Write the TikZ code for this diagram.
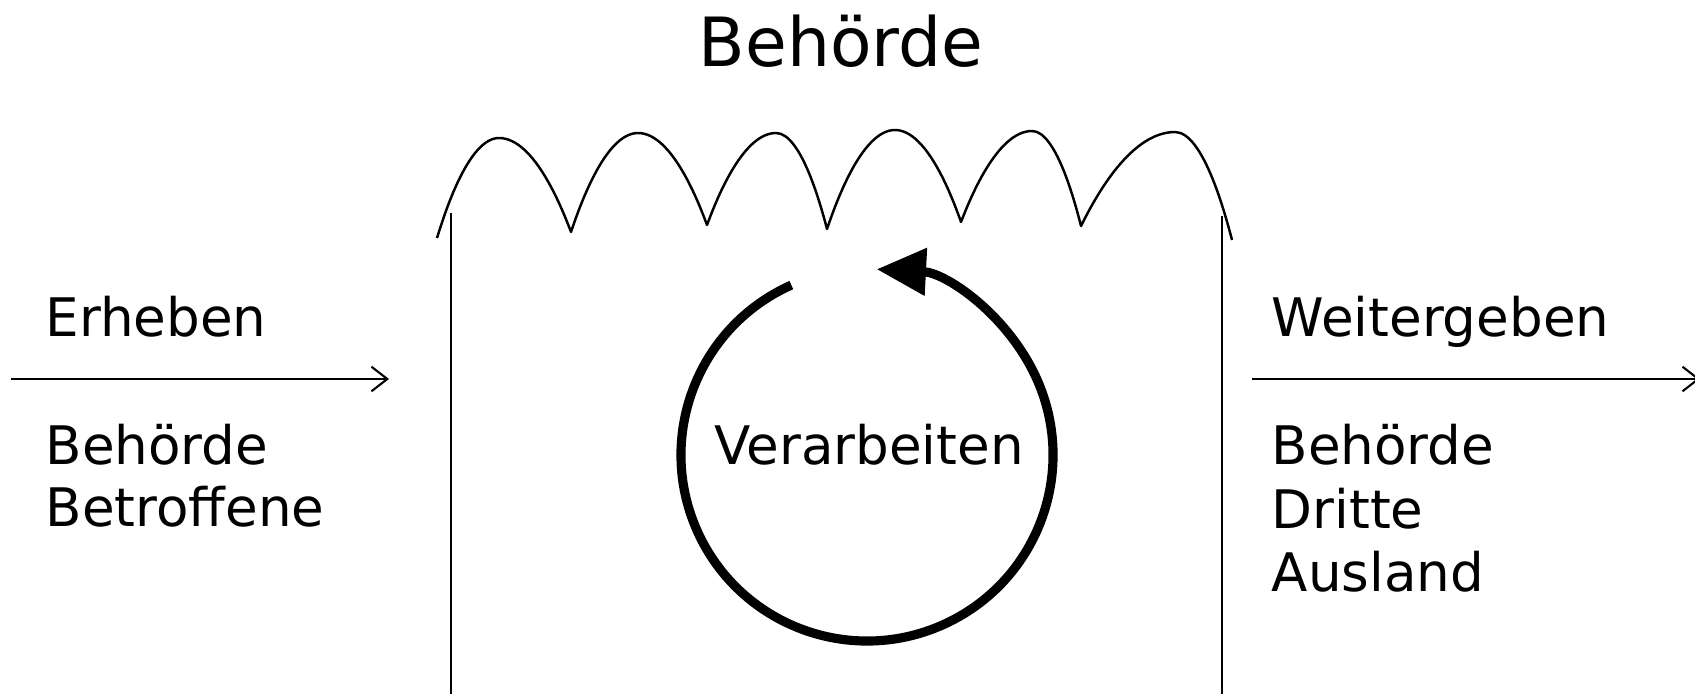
\documentclass[tikz,border=0pt]{standalone}
\usepackage{fontspec}
\setmainfont{DejaVu Sans}
\usetikzlibrary{arrows.meta}

\begin{document}
\begin{tikzpicture}[x=0.01cm, y=0.01cm,
  lab/.style={font=\fontsize{15.1}{18}\selectfont, inner sep=0pt, anchor=base west},
  wall/.style={line width=0.6pt},
  roof/.style={line width=0.7pt, line join=round},
  flow/.style={line width=0.6pt, -{Straight Barb[length=4.5pt, width=7pt]}},
  cycle/.style={line width=2.6pt, -{Triangle[length=14pt, width=13pt]}},
]
\useasboundingbox (0,0) rectangle (1695,694);
\node[font=\fontsize{19.3}{23}\selectfont, inner sep=0pt, anchor=base] (title) at (841,627) {Behörde};
% walls and roof
\coordinate (lwall) at (451,481);
\coordinate (rwall) at (1222,478);
\draw[wall] (lwall) -- (451,0);
\draw[wall] (rwall) -- (1222,0);
\draw[roof] (437,456)
  parabola bend (499,556) (571,462)
  parabola bend (638,561) (707,469)
  parabola bend (776,561) (827,465)
  parabola bend (895,564) (961,472)
  parabola bend (1032,563) (1081,468)
  parabola bend (1175,562) (1232,454);
% in and out
\coordinate (inA) at (11,315);
\coordinate (inB) at (389,315);
\coordinate (outA) at (1252,315);
\coordinate (outB) at (1700,315);
\draw[flow] (inA) -- (inB);
\draw[flow] (outA) -- (outB);
\node[lab] (erheben) at (45,357) {Erheben};
\foreach \who [count=\i] in {Behörde,Betroffene} {
  \node[lab] (src\i) at (45, 229-\i*62+62) {\who};
}
\node[lab] (weiter) at (1271,357) {Weitergeben};
\foreach \who [count=\i] in {Behörde,Dritte,Ausland} {
  \node[lab] (dst\i) at (1271, 229-\i*63+63) {\who};
}
% processing loop
\coordinate (mid) at (867,239);
\draw[cycle] ([shift={(114:186)}]mid) arc[start angle=114, end angle=447, radius=186];
\node[lab, anchor=base] (verarb) at (869,229) {Verarbeiten};
\end{tikzpicture}
\end{document}
